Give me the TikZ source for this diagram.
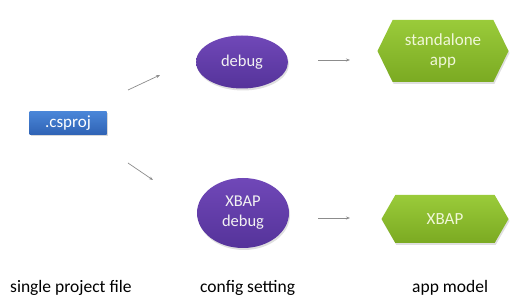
\documentclass[tikz,border=0pt]{standalone}
\usepackage{fontspec}
\setmainfont{Carlito}
\usetikzlibrary{shapes.geometric,shapes.symbols,shadows,arrows.meta}
\definecolor{blueT}{HTML}{4A86D8}
\definecolor{blueB}{HTML}{2F63B5}
\definecolor{purT}{HTML}{7048B8}
\definecolor{purB}{HTML}{55339A}
\definecolor{grnT}{HTML}{9ACB3A}
\definecolor{grnB}{HTML}{7BAA22}
\definecolor{arr}{HTML}{8C8C8C}
\definecolor{txtw}{HTML}{F2F2F2}
\definecolor{txtg}{HTML}{F0F7D8}
\tikzset{
  filebox/.style={rectangle, top color=blueT, bottom color=blueB, draw=none,
    minimum width=77pt, minimum height=23pt, inner sep=0pt, text=white,
    font=\fontsize{17}{19}\selectfont,
    drop shadow={opacity=0.3, shadow xshift=1pt, shadow yshift=-2pt}},
  cfg/.style={ellipse, top color=purT, bottom color=purB, draw=none,
    inner sep=0pt, text=txtw, align=center,
    font=\fontsize{16.5}{20}\selectfont,
    drop shadow={opacity=0.25, shadow xshift=1pt, shadow yshift=-2pt}},
  model/.style={signal, signal to=west and east, top color=grnT, bottom color=grnB,
    draw=none, inner sep=0pt, text=txtg, align=center,
    font=\fontsize{17}{20}\selectfont,
    drop shadow={opacity=0.25, shadow xshift=1pt, shadow yshift=-2pt}},
  flow/.style={draw=arr, line width=0.7pt, -{Stealth[length=4pt,width=3pt]}},
  caption/.style={font=\fontsize{17.5}{20}\selectfont, text=black, inner sep=0pt, anchor=base west}
}
\begin{document}
\begin{tikzpicture}[x=1pt,y=-1pt]
\useasboundingbox (0,0) rectangle (523,302);
\node[filebox] (csproj) at (68,123) {.csproj};
\node[cfg, minimum width=92pt, minimum height=53pt] (debug) at (242,62) {debug};
\node[cfg, minimum width=92pt, minimum height=70pt] (xbapdebug) at (243,213) {XBAP\\debug};
\node[model, minimum width=131pt, minimum height=62pt, signal pointer angle=128] (standalone) at (443,51) {standalone\\app};
\node[model, minimum width=127pt, minimum height=48pt, signal pointer angle=120] (xbap) at (445,219) {XBAP};
\coordinate (a1s) at (128,90);
\coordinate (a1e) at (160,75);
\coordinate (a2s) at (128,163);
\coordinate (a2e) at (153,180);
\coordinate (a3s) at (318,60);
\coordinate (a3e) at (350,60);
\coordinate (a4s) at (318,218);
\coordinate (a4e) at (350,218);
\draw[flow] (a1s) -- (a1e);
\draw[flow] (a2s) -- (a2e);
\draw[flow] (a3s) -- (a3e);
\draw[flow] (a4s) -- (a4e);
\node[caption] (cap1) at (10,293) {single project file};
\node[caption] (cap2) at (200,293) {config setting};
\node[caption] (cap3) at (412,293) {app model};
\end{tikzpicture}
\end{document}
